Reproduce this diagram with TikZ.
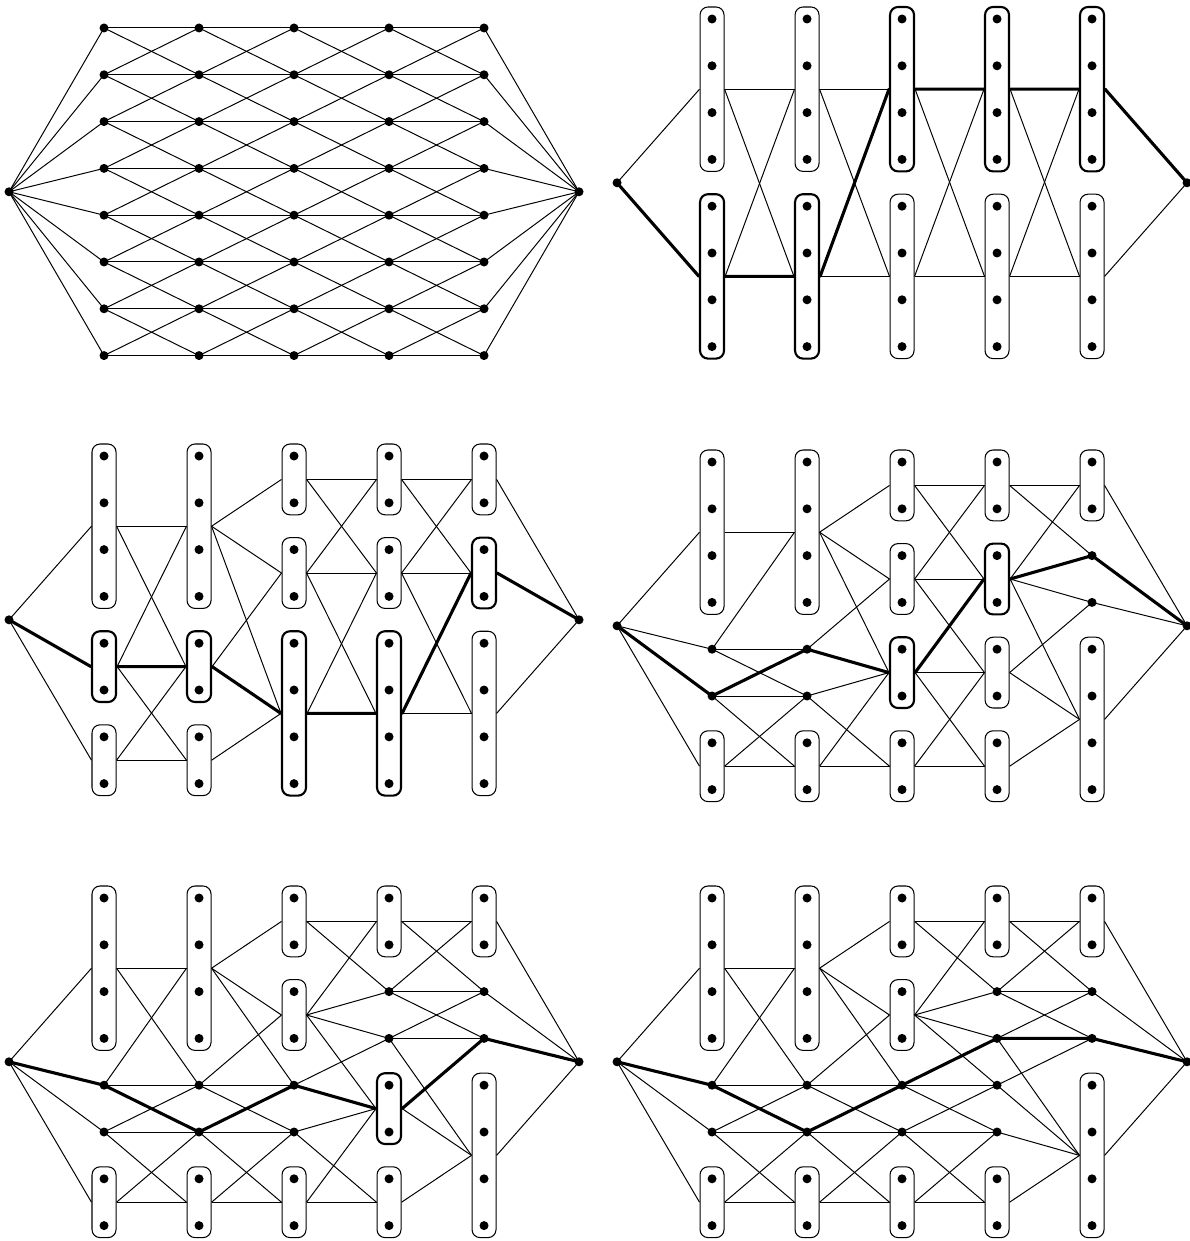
\documentclass[tikz,border=0pt]{standalone}
\usepackage{tikz}

\tikzset{
  pt/.style={circle, inner sep=0pt, outer sep=0pt, minimum size=0pt},
  grp/.style={rectangle, draw, rounded corners=0.2cm, minimum width=0.6cm,
    inner sep=0pt, line width=0.75pt},
  grpx/.style={grp, line width=1.5pt},
  link/.style={line width=0.7pt},
  hot/.style={line width=2.2pt, line join=round, line cap=round}
}

% a group of stacked vertices: [style]{name}{column}{first row}{last row}
\newcommand{\grp}[5][grp]{%
  \node[#1, minimum height={(#5-#4)*1.17cm+0.6cm}] (#2) at (#3,{-(#4+#5)/2}) {};
  \foreach \r in {#4,...,#5} \fill (#3,-\r) circle (3.2pt);
}
% a single vertex: {name}{column}{row}
\newcommand{\vtx}[3]{%
  \node[pt] (#1) at (#2,-#3) {};
  \fill (#2,-#3) circle (3.2pt);
}

\begin{document}
\begin{tikzpicture}[x=2.375cm, y=1.17cm]
  \useasboundingbox (0,0) rectangle (12.526,-26.517);
  \fill[white] (0,0) rectangle (12.526,-26.517);

  % Panel 1: full layered grid
  \begin{scope}[shift={(0.095,0.402)}, name prefix=a-]
    \vtx{s}{0}{4.5} \vtx{t}{6}{4.5}
    \foreach \c in {1,...,5} \foreach \r in {1,...,8} {\vtx{v\c\r}{\c}{\r}}
    \foreach \r in {1,...,8} {
      \draw[link] (s) -- (v1\r);
      \draw[link] (v5\r) -- (t);
    }
    \foreach \c in {1,...,4} \foreach \r in {1,...,8} \foreach \d in {-1,0,1} {
      \pgfmathtruncatemacro\nx{\c+1}
      \pgfmathtruncatemacro\k{\r+\d}
      \ifnum\k>0 \ifnum\k<9 \draw[link] (v\c\r) -- (v\nx\k); \fi\fi
    }
  \end{scope}

  % Panel 2: two groups per column
  \begin{scope}[shift={(6.495,0.594)}, name prefix=b-]
    \vtx{s}{0}{4.5} \vtx{t}{6}{4.5}
    \grp{c1T}{1}{1}{4} \grp[grpx]{c1B}{1}{5}{8}
    \grp{c2T}{2}{1}{4} \grp[grpx]{c2B}{2}{5}{8}
    \grp[grpx]{c3T}{3}{1}{4} \grp{c3B}{3}{5}{8}
    \grp[grpx]{c4T}{4}{1}{4} \grp{c4B}{4}{5}{8}
    \grp[grpx]{c5T}{5}{1}{4} \grp{c5B}{5}{5}{8}
    \foreach \x in {T,B} {
      \draw[link] (s) -- (c1\x.west);
      \draw[link] (c5\x.east) -- (t);
    }
    \foreach \c in {1,...,4} \foreach \x in {T,B} \foreach \y in {T,B} {
      \pgfmathtruncatemacro\nx{\c+1}
      \draw[link] (c\c\x.east) -- (c\nx\y.west);
    }
    \draw[hot] (s) -- (c1B.west) (c1B.east) -- (c2B.west) (c2B.east) -- (c3T.west)
      (c3T.east) -- (c4T.west) (c4T.east) -- (c5T.west) (c5T.east) -- (t);
  \end{scope}

  % Panel 3
  \begin{scope}[shift={(0.095,-8.744)}, name prefix=c-]
    \vtx{s}{0}{4.5} \vtx{t}{6}{4.5}
    \grp{c1A}{1}{1}{4} \grp[grpx]{c1B}{1}{5}{6} \grp{c1C}{1}{7}{8}
    \grp{c2A}{2}{1}{4} \grp[grpx]{c2B}{2}{5}{6} \grp{c2C}{2}{7}{8}
    \grp{c3A}{3}{1}{2} \grp{c3B}{3}{3}{4} \grp[grpx]{c3C}{3}{5}{8}
    \grp{c4A}{4}{1}{2} \grp{c4B}{4}{3}{4} \grp[grpx]{c4C}{4}{5}{8}
    \grp{c5A}{5}{1}{2} \grp[grpx]{c5B}{5}{3}{4} \grp{c5C}{5}{5}{8}
    \foreach \x in {A,B,C} {
      \draw[link] (s) -- (c1\x.west);
      \draw[link] (c5\x.east) -- (t);
    }
    \foreach \a/\b in {1A/2A, 1A/2B, 1B/2A, 1B/2B, 1B/2C, 1C/2B, 1C/2C,
        2A/3A, 2A/3B, 2A/3C, 2B/3B, 2B/3C, 2C/3C,
        3A/4A, 3A/4B, 3B/4A, 3B/4B, 3B/4C, 3C/4B, 3C/4C,
        4A/5A, 4A/5B, 4B/5A, 4B/5B, 4B/5C, 4C/5B, 4C/5C}
      \draw[link] (c\a.east) -- (c\b.west);
    \draw[hot] (s) -- (c1B.west) (c1B.east) -- (c2B.west) (c2B.east) -- (c3C.west)
      (c3C.east) -- (c4C.west) (c4C.east) -- (c5B.west) (c5B.east) -- (t);
  \end{scope}

  % Panel 4
  \begin{scope}[shift={(6.495,-8.872)}, name prefix=d-]
    \vtx{s}{0}{4.5} \vtx{t}{6}{4.5}
    \grp{c1A}{1}{1}{4} \vtx{c1r5}{1}{5} \vtx{c1r6}{1}{6} \grp{c1C}{1}{7}{8}
    \grp{c2A}{2}{1}{4} \vtx{c2r5}{2}{5} \vtx{c2r6}{2}{6} \grp{c2C}{2}{7}{8}
    \grp{c3A}{3}{1}{2} \grp{c3B}{3}{3}{4} \grp[grpx]{c3C}{3}{5}{6} \grp{c3D}{3}{7}{8}
    \grp{c4A}{4}{1}{2} \grp[grpx]{c4B}{4}{3}{4} \grp{c4C}{4}{5}{6} \grp{c4D}{4}{7}{8}
    \grp{c5A}{5}{1}{2} \vtx{c5r3}{5}{3} \vtx{c5r4}{5}{4} \grp{c5D}{5}{5}{8}
    \foreach \x in {1A,1r5,1r6,1C} \draw[link] (s) -- (c\x.west);
    \foreach \x in {5A,5r3,5r4,5D} \draw[link] (c\x.east) -- (t);
    \foreach \a/\b in {1A/2A, 1r5/2A, 1r5/2r5, 1r5/2r6, 1r6/2r5, 1r6/2r6, 1r6/2C,
        1C/2r6, 1C/2C,
        2A/3A, 2A/3B, 2A/3C, 2r5/3B, 2r5/3C, 2r6/3C, 2r6/3D, 2C/3C, 2C/3D,
        3A/4A, 3A/4B, 3B/4A, 3B/4B, 3B/4C, 3C/4B, 3C/4C, 3C/4D, 3D/4C, 3D/4D,
        4A/5A, 4A/5r3, 4B/5A, 4B/5r3, 4B/5r4, 4B/5D, 4C/5r4, 4C/5D, 4D/5D}
      \draw[link] (c\a.east) -- (c\b.west);
    \draw[hot] (s) -- (c1r6) -- (c2r5) -- (c3C.west)
      (c3C.east) -- (c4B.west) (c4B.east) -- (c5r3) -- (t);
  \end{scope}

  % Panel 5
  \begin{scope}[shift={(0.095,-18.188)}, name prefix=e-]
    \vtx{s}{0}{4.5} \vtx{t}{6}{4.5}
    \grp{c1A}{1}{1}{4} \vtx{c1r5}{1}{5} \vtx{c1r6}{1}{6} \grp{c1C}{1}{7}{8}
    \grp{c2A}{2}{1}{4} \vtx{c2r5}{2}{5} \vtx{c2r6}{2}{6} \grp{c2C}{2}{7}{8}
    \grp{c3A}{3}{1}{2} \grp{c3B}{3}{3}{4} \vtx{c3r5}{3}{5} \vtx{c3r6}{3}{6} \grp{c3D}{3}{7}{8}
    \grp{c4A}{4}{1}{2} \vtx{c4r3}{4}{3} \vtx{c4r4}{4}{4} \grp[grpx]{c4B}{4}{5}{6} \grp{c4D}{4}{7}{8}
    \grp{c5A}{5}{1}{2} \vtx{c5r3}{5}{3} \vtx{c5r4}{5}{4} \grp{c5D}{5}{5}{8}
    \foreach \x in {1A,1r5,1r6,1C} \draw[link] (s) -- (c\x.west);
    \foreach \x in {5A,5r3,5r4,5D} \draw[link] (c\x.east) -- (t);
    \foreach \a/\b in {1A/2A, 1A/2r5, 1r5/2A, 1r5/2r5, 1r5/2r6, 1r6/2r5, 1r6/2r6,
        1r6/2C, 1C/2r6, 1C/2C,
        2A/3A, 2A/3B, 2A/3r5, 2r5/3B, 2r5/3r5, 2r5/3r6, 2r6/3r5, 2r6/3r6, 2r6/3D,
        2C/3r6, 2C/3D,
        3A/4A, 3A/4r3, 3B/4A, 3B/4r3, 3B/4r4, 3B/4B, 3r5/4r4, 3r5/4B, 3r6/4B,
        3r6/4D, 3D/4B, 3D/4D,
        4A/5A, 4A/5r3, 4r3/5A, 4r3/5r3, 4r3/5r4, 4r4/5r3, 4r4/5r4, 4r4/5D,
        4B/5r4, 4B/5D, 4D/5D}
      \draw[link] (c\a.east) -- (c\b.west);
    \draw[hot] (s) -- (c1r5) -- (c2r6) -- (c3r5) -- (c4B.west)
      (c4B.east) -- (c5r4) -- (t);
  \end{scope}

  % Panel 6
  \begin{scope}[shift={(6.495,-18.188)}, name prefix=f-]
    \vtx{s}{0}{4.5} \vtx{t}{6}{4.5}
    \grp{c1A}{1}{1}{4} \vtx{c1r5}{1}{5} \vtx{c1r6}{1}{6} \grp{c1C}{1}{7}{8}
    \grp{c2A}{2}{1}{4} \vtx{c2r5}{2}{5} \vtx{c2r6}{2}{6} \grp{c2C}{2}{7}{8}
    \grp{c3A}{3}{1}{2} \grp{c3B}{3}{3}{4} \vtx{c3r5}{3}{5} \vtx{c3r6}{3}{6} \grp{c3D}{3}{7}{8}
    \grp{c4A}{4}{1}{2} \vtx{c4r3}{4}{3} \vtx{c4r4}{4}{4} \vtx{c4r5}{4}{5} \vtx{c4r6}{4}{6}
    \grp{c4D}{4}{7}{8}
    \grp{c5A}{5}{1}{2} \vtx{c5r3}{5}{3} \vtx{c5r4}{5}{4} \grp{c5D}{5}{5}{8}
    \foreach \x in {1A,1r5,1r6,1C} \draw[link] (s) -- (c\x.west);
    \foreach \x in {5A,5r3,5r4,5D} \draw[link] (c\x.east) -- (t);
    \foreach \a/\b in {1A/2A, 1A/2r5, 1r5/2A, 1r5/2r5, 1r5/2r6, 1r6/2r5, 1r6/2r6,
        1r6/2C, 1C/2r6, 1C/2C,
        2A/3A, 2A/3B, 2A/3r5, 2r5/3B, 2r5/3r5, 2r5/3r6, 2r6/3r5, 2r6/3r6, 2r6/3D,
        2C/3r6, 2C/3D,
        3A/4A, 3A/4r3, 3B/4A, 3B/4r3, 3B/4r4, 3B/4r5, 3r5/4r4, 3r5/4r5, 3r5/4r6,
        3r6/4r5, 3r6/4r6, 3r6/4D, 3D/4r6, 3D/4D,
        4A/5A, 4A/5r3, 4r3/5A, 4r3/5r3, 4r3/5r4, 4r4/5r3, 4r4/5r4, 4r4/5D,
        4r5/5r4, 4r5/5D, 4r6/5D, 4D/5D}
      \draw[link] (c\a.east) -- (c\b.west);
    \draw[hot] (s) -- (c1r5) -- (c2r6) -- (c3r5) -- (c4r4) -- (c5r4) -- (t);
  \end{scope}
\end{tikzpicture}
\end{document}
